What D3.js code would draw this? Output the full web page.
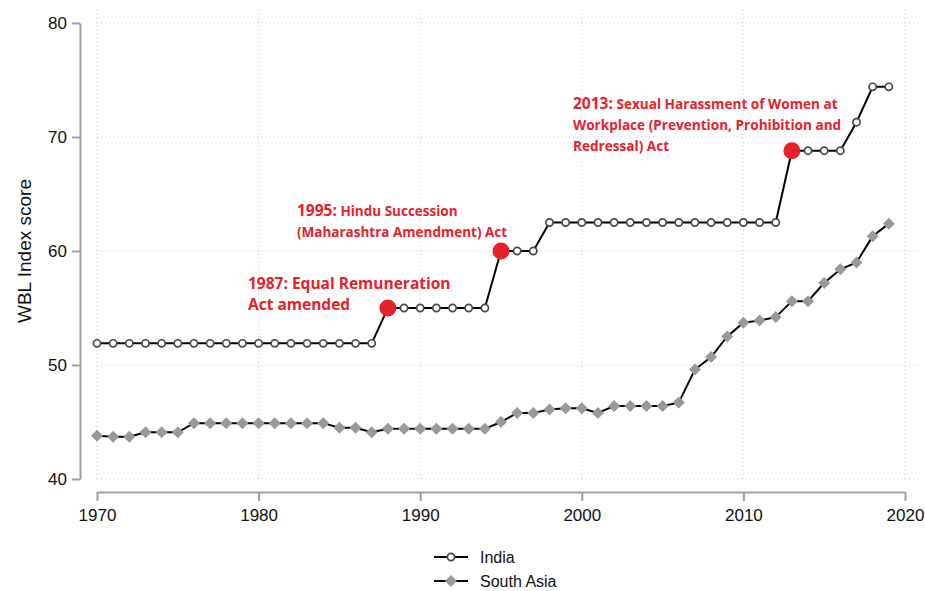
<!DOCTYPE html>
<html lang="en">
<head>
<meta charset="utf-8">
<title>WBL Index score</title>
<style>
  body { margin: 0; background: #fff; }
  .grid line { stroke: #c8c8c8; stroke-width: 1; stroke-dasharray: 1,3; }
  .axis path, .axis line { stroke: #a0a0a0; stroke-width: 2; }
  .tick-y { font: 17px "Liberation Sans", Arial, sans-serif; fill: #111; }
  .tick-x { font: 17px "Liberation Sans Narrow", "Liberation Sans", Arial, sans-serif; fill: #111; }
  .note { font-family: "Open Sans", sans-serif; font-weight: bold; fill: #e8202a; }
  .legend text { font: 16px "Liberation Sans", Arial, sans-serif; fill: #111; }
</style>
<script src="https://d3js.org/d3.v7.min.js"></script>
</head>
<body>
<script>
var w = 925, h = 591;

// data
var years = d3.range(1970, 2020);
var india = [51.9,51.9,51.9,51.9,51.9,51.9,51.9,51.9,51.9,51.9,
             51.9,51.9,51.9,51.9,51.9,51.9,51.9,51.9,55,55,
             55,55,55,55,55,60,60,60,62.5,62.5,
             62.5,62.5,62.5,62.5,62.5,62.5,62.5,62.5,62.5,62.5,
             62.5,62.5,62.5,68.8,68.8,68.8,68.8,71.3,74.4,74.4];
var southAsia = [43.8,43.7,43.7,44.1,44.1,44.1,44.9,44.9,44.9,44.9,
                 44.9,44.9,44.9,44.9,44.9,44.5,44.5,44.1,44.4,44.4,
                 44.4,44.4,44.4,44.4,44.4,45.0,45.8,45.8,46.1,46.2,
                 46.2,45.8,46.4,46.4,46.4,46.4,46.7,49.6,50.7,52.5,
                 53.7,53.9,54.2,55.6,55.6,57.2,58.4,59.0,61.3,62.4];
var yTicks = [40, 50, 60, 70, 80];
var xTicks = [1970, 1980, 1990, 2000, 2010, 2020];
var notes = [
  {year: 1988, head: "1987:", lines: [" Equal Remuneration", "Act amended"]},
  {year: 1995, head: "1995:", lines: [" Hindu Succession", "(Maharashtra Amendment) Act"]},
  {year: 2013, head: "2013:", lines: [" Sexual Harassment of Women at", "Workplace (Prevention, Prohibition and", "Redressal) Act"]}
];
var noteAt = [[248, 289], [297, 216], [573, 109]];
var noteSize = [15.5, 13.5, 13.6];
var legendNames = ["India", "South Asia"];

var x = d3.scaleLinear().domain([1970, 2020]).range([97, 905]);
var y = d3.scaleLinear().domain([40, 80]).range([479, 23]);

var svg = d3.select("body").append("svg")
  .attr("width", w).attr("height", h);

// gridlines
var grid = svg.append("g").attr("class", "grid");
grid.selectAll(".gy").data(yTicks).enter().append("line")
  .attr("x1", 97).attr("x2", 918)
  .attr("y1", function(d) { return y(d); }).attr("y2", function(d) { return y(d); });
grid.selectAll(".gx").data(xTicks).enter().append("line")
  .attr("x1", function(d) { return x(d); }).attr("x2", function(d) { return x(d); })
  .attr("y1", 10).attr("y2", 479);

// axes
var yAxis = svg.append("g").attr("class", "axis")
  .attr("transform", "translate(80,0)")
  .call(d3.axisLeft(y).tickValues(yTicks).tickSize(8).tickSizeOuter(0).tickPadding(5));
yAxis.selectAll("text").attr("class", "tick-y").attr("font-size", null).attr("font-family", null);

var xAxis = svg.append("g").attr("class", "axis")
  .attr("transform", "translate(0,492)")
  .call(d3.axisBottom(x).tickValues(xTicks).tickFormat(d3.format("d")).tickSize(9).tickSizeOuter(0).tickPadding(8));
xAxis.selectAll("text").attr("class", "tick-x").attr("font-size", null).attr("font-family", null);

svg.append("text")
  .attr("transform", "translate(31," + y(60) + ") rotate(-90)")
  .attr("text-anchor", "middle")
  .style("font", "19px 'Liberation Sans', Arial, sans-serif")
  .style("fill", "#111")
  .text("WBL Index score");

// lines
var line = d3.line()
  .x(function(d, i) { return x(years[i]); })
  .y(function(d) { return y(d); });

svg.append("path").datum(southAsia)
  .attr("d", line).attr("fill", "none").attr("stroke", "#000").attr("stroke-width", 2);
var diamond = d3.symbol().type(d3.symbolSquare).size(72);
svg.selectAll(".sa").data(southAsia).enter().append("path")
  .attr("d", diamond)
  .attr("transform", function(d, i) { return "translate(" + x(years[i]) + "," + y(d) + ") rotate(45)"; })
  .attr("fill", "#999");

svg.append("path").datum(india)
  .attr("d", line).attr("fill", "none").attr("stroke", "#000").attr("stroke-width", 2);
svg.selectAll(".in").data(india).enter().append("circle")
  .attr("cx", function(d, i) { return x(years[i]); })
  .attr("cy", function(d) { return y(d); })
  .attr("r", 3.6)
  .attr("fill", "#fff").attr("stroke", "#4a4a4a").attr("stroke-width", 1.7);

// annotations
notes.forEach(function(n, k) {
  var v = india[years.indexOf(n.year)];
  svg.append("circle")
    .attr("cx", x(n.year)).attr("cy", y(v)).attr("r", 8.5)
    .attr("fill", "#e8202a");
  var t = svg.append("text").attr("class", "note")
    .attr("x", noteAt[k][0]).attr("y", noteAt[k][1])
    .style("font-size", noteSize[k] + "px");
  t.append("tspan").style("font-size", "15.5px").text(n.head);
  t.append("tspan").attr("xml:space", "preserve").text(n.lines[0]);
  n.lines.slice(1).forEach(function(s) {
    t.append("tspan").attr("x", noteAt[k][0]).attr("dy", 21).text(s);
  });
});
svg.selectAll(".note").style("white-space", "pre");

// legend
var lg = svg.append("g").attr("class", "legend");
legendNames.forEach(function(name, i) {
  var ly = 557 + i * 24;
  lg.append("line").attr("x1", 434).attr("x2", 468).attr("y1", ly).attr("y2", ly)
    .attr("stroke", "#000").attr("stroke-width", 2);
  if (i == 0) {
    lg.append("circle").attr("cx", 451).attr("cy", ly).attr("r", 3.6)
      .attr("fill", "#fff").attr("stroke", "#4a4a4a").attr("stroke-width", 1.7);
  } else {
    lg.append("path").attr("d", diamond).attr("transform", "translate(451," + ly + ") rotate(45)")
      .attr("fill", "#999");
  }
  lg.append("text").attr("x", 480).attr("y", ly + 6).text(name);
});
</script>
</body>
</html>
